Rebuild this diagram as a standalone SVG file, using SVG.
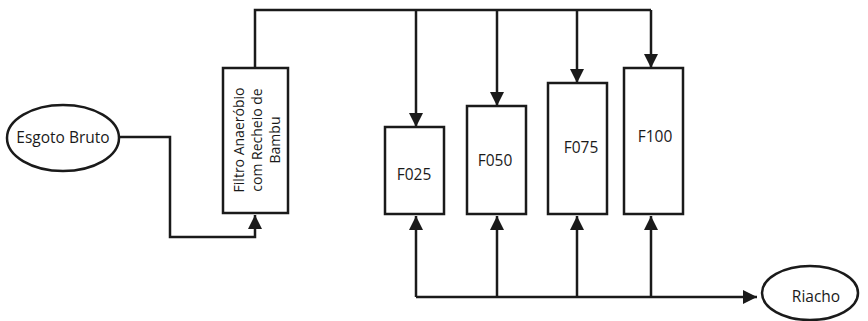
<svg xmlns="http://www.w3.org/2000/svg" width="868" height="321" viewBox="0 0 868 321">
<defs>
<marker id="ah" markerUnits="userSpaceOnUse" markerWidth="14" markerHeight="14" viewBox="0 0 14 14" refX="14" refY="7" orient="auto">
<path d="M0,0 L14,7 L0,14 Z" fill="#1a1a1a"/>
</marker>
<style>
.n{fill:#fff;stroke:#1a1a1a;stroke-width:2.5}
.c{fill:none;stroke:#1a1a1a;stroke-width:2.5}
.a{marker-end:url(#ah)}
text{font-family:"Open Sans","Noto Sans",sans-serif;font-size:15.5px;fill:#1a1a1a;text-anchor:middle}
.r{font-size:14px}
</style>
</defs>
<rect width="868" height="321" fill="#fff"/>
<g id="connectors">
<path class="c a" d="M119,137 H170 V237 H255 V215"/>
<path class="c" d="M255,68 V10 H651"/>
<path class="c a" d="M416,10 V127"/>
<path class="c a" d="M497,10 V106"/>
<path class="c a" d="M577,10 V83"/>
<path class="c a" d="M651,10 V68"/>
<path class="c a" d="M416,297 H757"/>
<path class="c a" d="M416,297 V216"/>
<path class="c a" d="M497,297 V216"/>
<path class="c a" d="M577,297 V216"/>
<path class="c a" d="M651,297 V216"/>
</g>
<g id="esgoto">
<ellipse class="n" cx="63" cy="138" rx="56" ry="33"/>
<text x="63" y="143">Esgoto Bruto</text>
</g>
<g id="filtro">
<rect class="n" x="223" y="68" width="65" height="145"/>
<g transform="translate(0,140) rotate(-90)">
<text class="r" x="0" y="244">Filtro Anaeróbio</text>
<text class="r" x="0" y="262">com Recheio de</text>
<text class="r" x="0" y="280">Bambu</text>
</g>
</g>
<g id="f025">
<rect class="n" x="385" y="127" width="59" height="87"/>
<text x="414" y="180">F025</text>
</g>
<g id="f050">
<rect class="n" x="467" y="106" width="59" height="108"/>
<text x="495" y="166">F050</text>
</g>
<g id="f075">
<rect class="n" x="548" y="83" width="59" height="131"/>
<text x="581" y="153">F075</text>
</g>
<g id="f100">
<rect class="n" x="624" y="68" width="59" height="146"/>
<text x="655" y="142">F100</text>
</g>
<g id="riacho">
<ellipse class="n" cx="810" cy="293" rx="48" ry="27"/>
<text x="816" y="302">Riacho</text>
</g>
</svg>
